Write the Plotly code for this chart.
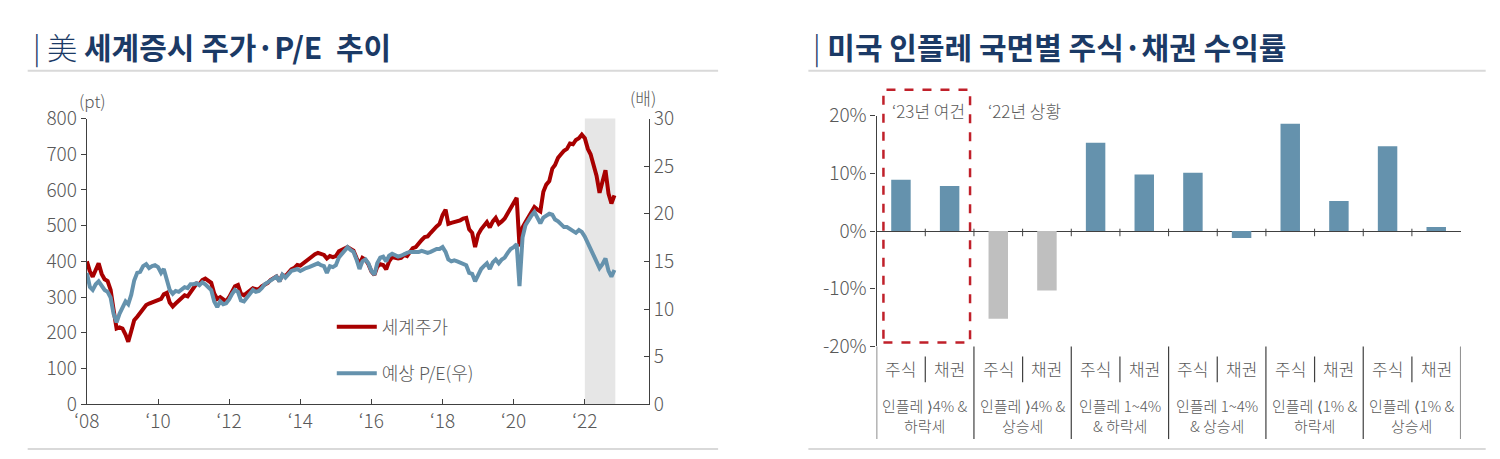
import plotly.graph_objects as go
import pandas as pd

# ---- left chart: world equity index and forward P/E (monthly)
months = pd.date_range("2008-01-01", "2022-11-01", freq="MS")

world_price = [
    400, 372, 357, 380, 395, 365, 350, 345, 320, 265, 212, 215,   # 2008
    212, 195, 175, 205, 235, 245, 255, 268, 278, 282, 285, 290,   # 2009
    292, 295, 308, 312, 285, 274, 282, 290, 298, 305, 302, 315,   # 2010
    325, 338, 336, 348, 352, 345, 340, 310, 295, 300, 292, 288,   # 2011
    300, 318, 330, 334, 310, 305, 312, 318, 325, 322, 322, 330,   # 2012
    335, 340, 348, 352, 358, 345, 362, 358, 368, 378, 382, 390,   # 2013
    388, 395, 400, 405, 412, 420, 424, 422, 418, 408, 415, 412,   # 2014
    415, 428, 432, 437, 440, 435, 430, 410, 392, 410, 405, 392,   # 2015
    372, 362, 385, 392, 390, 378, 400, 412, 410, 408, 410, 418,   # 2016
    415, 425, 437, 440, 452, 460, 468, 470, 480, 490, 498, 505,   # 2017
    530, 545, 505, 508, 510, 512, 515, 520, 522, 490, 480, 440,   # 2018
    475, 490, 498, 510, 495, 512, 522, 505, 512, 520, 535, 550,   # 2019
    560, 578, 442, 495, 510, 525, 540, 552, 545, 540, 595, 615,   # 2020
    625, 660, 670, 690, 700, 710, 715, 730, 728, 740, 745, 755,   # 2021
    745, 715, 700, 672, 640, 592, 625, 655, 590, 562, 585,        # 2022
]

forward_pe = [
    13.8, 12.3, 12.0, 12.6, 12.9, 12.4, 12.0, 11.8, 11.2, 9.5, 8.6, 9.5,      # 2008
    10.2, 10.8, 10.5, 11.5, 13.0, 13.8, 13.9, 14.5, 14.7, 14.3, 14.5, 14.6,   # 2009
    14.4, 13.8, 14.2, 13.2, 12.0, 11.6, 11.9, 11.8, 12.0, 12.3, 12.2, 12.6,   # 2010
    12.6, 12.7, 12.5, 12.8, 12.6, 12.3, 12.0, 10.8, 10.2, 10.8, 10.5, 10.6,   # 2011
    11.0, 11.6, 12.0, 11.8, 10.9, 10.8, 11.2, 11.6, 12.0, 11.8, 11.9, 12.2,   # 2012
    12.6, 12.8, 13.0, 13.2, 13.4, 12.9, 13.6, 13.3, 13.7, 14.0, 14.1, 14.2,   # 2013
    14.0, 14.2, 14.3, 14.4, 14.5, 14.7, 14.8, 14.6, 14.5, 13.8, 14.5, 14.4,   # 2014
    14.6, 15.4, 15.8, 16.2, 16.5, 16.2, 16.0, 15.2, 14.2, 15.0, 15.2, 14.8,   # 2015
    14.0, 13.6, 14.8, 15.4, 15.5, 15.0, 15.6, 15.8, 15.7, 15.5, 15.6, 15.8,   # 2016
    15.9, 16.0, 16.0, 15.9, 16.0, 16.1, 16.0, 15.9, 16.0, 16.2, 16.3, 16.3,   # 2017
    16.5, 16.0, 15.2, 15.0, 15.1, 15.0, 14.9, 14.8, 14.6, 13.8, 13.7, 12.9,   # 2018
    13.5, 14.2, 14.5, 14.8, 14.2, 14.9, 15.2, 14.8, 15.2, 15.4, 15.9, 16.3,   # 2019
    16.5, 16.8, 12.4, 17.5, 18.8, 19.4, 19.8, 20.2, 19.5, 19.0, 19.6, 19.8,   # 2020
    20.0, 19.9, 19.4, 19.2, 18.9, 18.6, 18.6, 18.4, 18.2, 18.0, 18.3, 18.1,   # 2021
    17.6, 16.9, 16.4, 15.8, 15.0, 14.3, 14.7, 15.3, 14.0, 13.4, 14.1,         # 2022
]

year_ticks = ["2008-01-01", "2010-01-01", "2012-01-01", "2014-01-01",
              "2016-01-01", "2018-01-01", "2020-01-01", "2022-01-01"]
year_labels = ["‘08", "‘10", "‘12", "‘14", "‘16", "‘18", "‘20", "‘22"]

# ---- right chart: US stock / bond returns by inflation regime
regimes = ["인플레 ⟩4% &<br>하락세", "인플레 ⟩4% &<br>상승세", "인플레 1~4%<br>& 하락세",
           "인플레 1~4%<br>& 상승세", "인플레 ⟨1% &<br>하락세", "인플레 ⟨1% &<br>상승세"]
assets = ["주식", "채권"]
returns = [8.9, 7.8, -15.2, -10.3, 15.3, 9.8, 10.1, -1.2, 18.6, 5.2, 14.7, 0.7]
highlight_2022 = [False, False, True, True, False, False,
                  False, False, False, False, False, False]
pct_ticks = [-20, -10, 0, 10, 20]
pct_labels = ["-20%", "-10%", "0%", "10%", "20%"]

RED = "#a80000"
BLUE = "#6592ad"
GREY_BAR = "#bfbfbf"
NAVY = "#1b3a66"
TXT = "#595959"
AX = "#404040"
KFONT = "Noto Sans CJK KR"

fig = go.Figure()

fig.add_trace(go.Scatter(x=months, y=world_price, name="세계주가", mode="lines",
                         line=dict(color=RED, width=4), legendgroup="a",
                         xaxis="x", yaxis="y"))
fig.add_trace(go.Scatter(x=months, y=forward_pe, name="예상 P/E(우)", mode="lines",
                         line=dict(color=BLUE, width=4), legendgroup="b",
                         xaxis="x", yaxis="y3"))

bar_x = list(range(len(returns)))
fig.add_trace(go.Bar(x=bar_x, y=returns, width=0.4, showlegend=False,
                     marker=dict(color=[GREY_BAR if h else BLUE for h in highlight_2022],
                                 line_width=0),
                     xaxis="x2", yaxis="y2"))

axis_font = dict(family=KFONT, size=19, color=TXT, weight=300)
LEFT_DOM_Y = [0.1175, 0.7788]

fig.update_layout(
    width=1500, height=459,
    margin=dict(l=0, r=0, t=0, b=0),
    paper_bgcolor="white", plot_bgcolor="white",
    font=dict(family=KFONT, color=TXT),
    showlegend=True,
    legend=dict(x=0.209, y=0.339, xanchor="left", yanchor="top",
                font=dict(family=KFONT, size=18, color=TXT, weight=300),
                tracegroupgap=20, bgcolor="rgba(0,0,0,0)", itemwidth=40),
    xaxis=dict(domain=[0.0443, 0.4222], type="date",
               range=["2008-01-01", "2023-10-20"],
               tickvals=year_ticks, ticktext=year_labels,
               showgrid=False, showline=True, linecolor=AX, linewidth=1.3,
               ticks="inside", ticklen=5, tickcolor=AX,
               tickfont=axis_font, anchor="y"),
    yaxis=dict(domain=LEFT_DOM_Y, range=[0, 800], dtick=100,
               showgrid=False, showline=True, linecolor=AX, linewidth=1.3,
               ticks="outside", ticklen=5, tickcolor=AX,
               tickfont=axis_font, anchor="x", zeroline=False),
    yaxis3=dict(domain=LEFT_DOM_Y, range=[0, 30], dtick=5,
                overlaying="y", side="right", anchor="x",
                showgrid=False, showline=True, linecolor=AX, linewidth=1.3,
                ticks="inside", ticklen=5, tickcolor=AX,
                tickfont=axis_font, zeroline=False),
    xaxis2=dict(domain=[0.5754, 0.9681], range=[-0.5, 11.5],
                showticklabels=False, showgrid=False, showline=False,
                zeroline=False, ticks="", anchor="y2"),
    yaxis2=dict(domain=[0.2512, 0.7857], range=[-20, 20],
                tickvals=pct_ticks, ticktext=pct_labels,
                showgrid=False, showline=True,
                linecolor=AX, linewidth=1.3,
                ticks="outside", ticklen=5, tickcolor=AX,
                tickfont=axis_font, anchor="x2",
                zeroline=True, zerolinecolor=AX, zerolinewidth=1.3),
)

shapes = []
# shaded 2022 band on the left chart
shapes.append(dict(type="rect", xref="x", yref="y domain",
                   x0="2022-01-01", x1="2022-11-10", y0=0, y1=1,
                   fillcolor="#e6e6e6", line_width=0, layer="below"))

# separator lines under titles and at the bottom
for x0, x1 in [(0.0045, 0.4688), (0.5295, 0.985)]:
    for yy in [0.8894, 0.0138]:
        shapes.append(dict(type="line", xref="paper", yref="paper",
                           x0=x0, x1=x1, y0=yy, y1=yy,
                           line=dict(color="#d9d9d9", width=2)))

# category tick marks on the zero line
for i in range(len(returns) - 1):
    shapes.append(dict(type="line", xref="x2", yref="y2",
                       x0=i + 0.5, x1=i + 0.5, y0=0.4, y1=-0.9,
                       line=dict(color=AX, width=1)))

# dividers under the right chart
for g in range(len(regimes) + 1):
    xx = g * 2 - 0.5
    shapes.append(dict(type="line", xref="x2", yref="paper",
                       x0=xx, x1=xx, y0=0.2512, y1=0.0369,
                       line=dict(color=AX, width=1.2)))
for g in range(len(regimes)):
    xx = g * 2 + 0.5
    shapes.append(dict(type="line", xref="x2", yref="paper",
                       x0=xx, x1=xx, y0=0.2281, y1=0.1682,
                       line=dict(color=AX, width=1.2)))

# dashed box marking the 2023 conditions
shapes.append(dict(type="rect", xref="x2", yref="paper",
                   x0=-0.36, x1=1.42, y0=0.2604, y1=0.8456,
                   line=dict(color="#c0202a", width=2.5, dash="dash"),
                   fillcolor="rgba(0,0,0,0)"))
fig.update_layout(shapes=shapes)

ann = []
ann.append(dict(xref="paper", yref="paper", x=0.0065, y=0.947, xanchor="left",
                yanchor="middle", showarrow=False,
                text="<span style='font-weight:300'>| 美</span> <b>세계증시 주가·P/E  추이</b>",
                font=dict(family=KFONT, size=30, color=NAVY)))
ann.append(dict(xref="paper", yref="paper", x=0.5315, y=0.947, xanchor="left",
                yanchor="middle", showarrow=False,
                text="<span style='font-weight:300'>|</span> <b>미국 인플레 국면별 주식·채권 수익률</b>",
                font=dict(family=KFONT, size=30, color=NAVY)))
ann.append(dict(xref="paper", yref="paper", x=0.0484, y=0.8203, xanchor="center",
                yanchor="middle", showarrow=False, text="(pt)",
                font=dict(family=KFONT, size=17, color=TXT, weight=300)))
ann.append(dict(xref="paper", yref="paper", x=0.4181, y=0.8272, xanchor="center",
                yanchor="middle", showarrow=False, text="(배)",
                font=dict(family=KFONT, size=17, color=TXT, weight=300)))
ann.append(dict(xref="x2", yref="paper", x=0.57, y=0.7972, xanchor="center",
                yanchor="middle", showarrow=False, text="‘23년 여건",
                font=dict(family=KFONT, size=17, color=TXT, weight=300)))
ann.append(dict(xref="x2", yref="paper", x=2.53, y=0.7972, xanchor="center",
                yanchor="middle", showarrow=False, text="‘22년 상황",
                font=dict(family=KFONT, size=17, color=TXT, weight=300)))
for i in range(len(returns)):
    ann.append(dict(xref="x2", yref="paper", x=i, y=0.2005, xanchor="center",
                    yanchor="middle", showarrow=False, text=assets[i % 2],
                    font=dict(family=KFONT, size=17, color=TXT, weight=300)))
for g, lab in enumerate(regimes):
    ann.append(dict(xref="x2", yref="paper", x=g * 2 + 0.5, y=0.0922, xanchor="center",
                    yanchor="middle", showarrow=False, text=lab,
                    font=dict(family=KFONT, size=15, color=TXT, weight=300)))
fig.update_layout(annotations=ann)

fig.write_html("out.html")
